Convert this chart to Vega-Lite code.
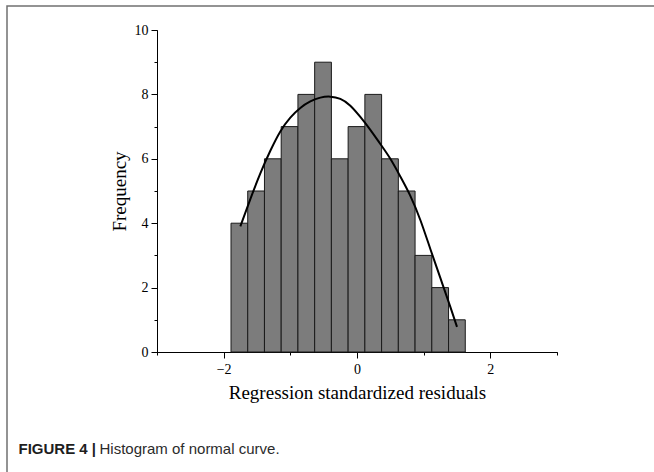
{
  "$schema": "https://vega.github.io/schema/vega-lite/v6.json",
  "autosize": "none",
  "padding": {"left": 7, "top": 6, "right": 0, "bottom": 0},
  "width": 647,
  "height": 466,
  "background": "white",
  "config": {
    "view": {"stroke": "#707070", "strokeWidth": 1.5, "strokeDash": [647, 1113, 466]},
    "axis": {
      "domainColor": "#000000",
      "tickColor": "#000000",
      "labelColor": "#000000",
      "titleColor": "#000000",
      "labelFont": "Liberation Serif",
      "titleFont": "Liberation Serif",
      "labelFontSize": 14,
      "titleFontSize": 19,
      "titleFontWeight": "normal",
      "grid": false
    }
  },
  "datasets": {
    "bins": [
      {"bin_start": -1.890, "bin_end": -1.639, "count": 4},
      {"bin_start": -1.639, "bin_end": -1.388, "count": 5},
      {"bin_start": -1.388, "bin_end": -1.137, "count": 6},
      {"bin_start": -1.137, "bin_end": -0.886, "count": 7},
      {"bin_start": -0.886, "bin_end": -0.635, "count": 8},
      {"bin_start": -0.635, "bin_end": -0.384, "count": 9},
      {"bin_start": -0.384, "bin_end": -0.133, "count": 6},
      {"bin_start": -0.133, "bin_end": 0.118, "count": 7},
      {"bin_start": 0.118, "bin_end": 0.369, "count": 8},
      {"bin_start": 0.369, "bin_end": 0.620, "count": 6},
      {"bin_start": 0.620, "bin_end": 0.871, "count": 5},
      {"bin_start": 0.871, "bin_end": 1.122, "count": 3},
      {"bin_start": 1.122, "bin_end": 1.373, "count": 2},
      {"bin_start": 1.373, "bin_end": 1.624, "count": 1}
    ],
    "curve": [
      {"x": -1.75, "y": 3.9},
      {"x": -1.6, "y": 4.75},
      {"x": -1.45, "y": 5.55},
      {"x": -1.3, "y": 6.25},
      {"x": -1.15, "y": 6.85},
      {"x": -1.0, "y": 7.28},
      {"x": -0.85, "y": 7.58},
      {"x": -0.7, "y": 7.78},
      {"x": -0.55, "y": 7.9},
      {"x": -0.4, "y": 7.93},
      {"x": -0.25, "y": 7.86},
      {"x": -0.1, "y": 7.65},
      {"x": 0.05, "y": 7.3},
      {"x": 0.2, "y": 6.9},
      {"x": 0.35, "y": 6.46},
      {"x": 0.5, "y": 6.0},
      {"x": 0.65, "y": 5.45},
      {"x": 0.8, "y": 4.85},
      {"x": 0.95, "y": 4.1},
      {"x": 1.1, "y": 3.2},
      {"x": 1.25, "y": 2.3},
      {"x": 1.4, "y": 1.4},
      {"x": 1.5, "y": 0.78}
    ]
  },
  "layer": [
    {
      "data": {"name": "bins"},
      "mark": {"type": "rect", "fill": "#7c7c7c", "stroke": "#1a1a1a", "strokeWidth": 1},
      "encoding": {
        "x": {
          "field": "bin_start", "type": "quantitative",
          "scale": {"domain": [-3, 3], "range": [150, 550], "nice": false, "zero": false},
          "axis": {"orient": "bottom", "offset": -120, "values": [-2, 0, 2], "tickSize": 6, "labelPadding": 4, "title": "Regression standardized residuals", "titlePadding": 7}
        },
        "x2": {"field": "bin_end"},
        "y": {
          "field": "count", "type": "quantitative",
          "scale": {"domain": [0, 10], "range": [346, 24], "nice": false},
          "axis": {"orient": "left", "offset": -150, "values": [0, 2, 4, 6, 8, 10], "tickSize": 6, "labelPadding": 3, "title": "Frequency", "titlePadding": 5}
        },
        "y2": {"datum": 0}
      }
    },
    {
      "data": {"name": "curve"},
      "mark": {"type": "line", "color": "#000000", "strokeWidth": 2, "interpolate": "natural"},
      "encoding": {
        "x": {
          "field": "x", "type": "quantitative",
          "axis": {
            "orient": "bottom", "offset": -120, "values": [-3, -1, 1, 3], "tickSize": 3, "labels": false,
            "title": "Histogram of normal curve.",
            "titleX": 92, "titleY": 101, "titleAlign": "left", "titleBaseline": "alphabetic", "titleAngle": 0,
            "titleFont": "Liberation Sans", "titleFontSize": 15, "titleFontWeight": "normal", "titleColor": "#2b2b2b"
          }
        },
        "y": {
          "field": "y", "type": "quantitative",
          "axis": {
            "orient": "left", "offset": -150, "values": [1, 3, 5, 7, 9], "tickSize": 3, "labels": false,
            "title": "FIGURE 4 |",
            "titleX": -139, "titleY": 447, "titleAlign": "left", "titleBaseline": "alphabetic", "titleAngle": 0,
            "titleFont": "Liberation Sans", "titleFontSize": 15, "titleFontWeight": "bold", "titleColor": "#1e1e1e"
          }
        }
      }
    }
  ],
  "resolve": {"axis": {"x": "independent", "y": "independent"}}
}
